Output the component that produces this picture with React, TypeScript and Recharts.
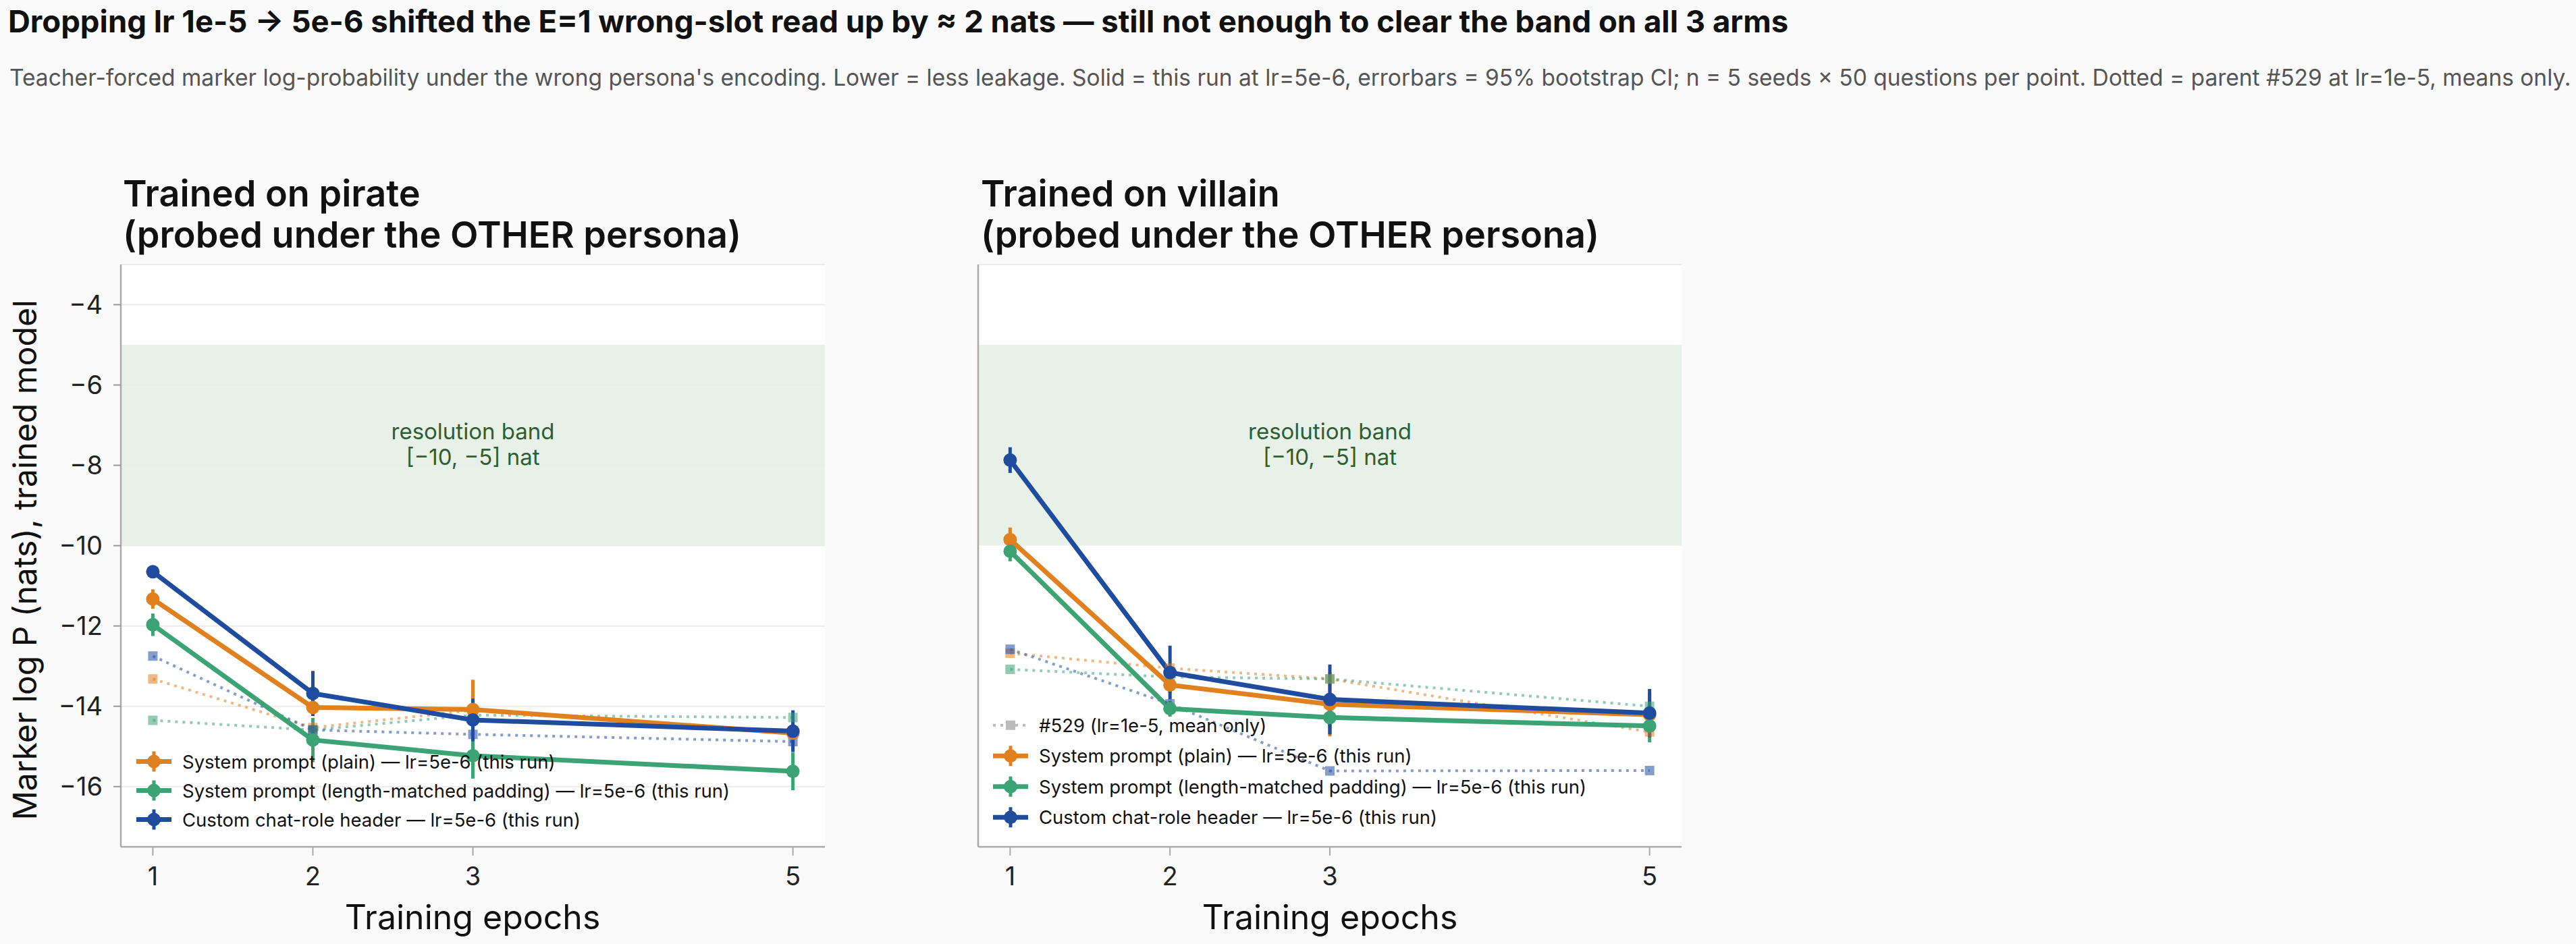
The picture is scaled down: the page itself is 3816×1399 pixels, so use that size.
import React from 'react';
import {
  CartesianGrid,
  ErrorBar,
  Label,
  Legend,
  Line,
  LineChart,
  ReferenceArea,
  XAxis,
  YAxis
} from 'recharts';

// x categories (training epochs)
const epochs = [1, 2, 3, 5];
const yTicks = [-16, -14, -12, -10, -8, -6, -4];

// Trained on pirate, this run (lr=5e-6)
const pirPlain = [-11.33, -14.03, -14.08, -14.67];
const pirPlainErr = [0.24, 0.15, 0.74, 0.15];
const pirPadded = [-11.97, -14.84, -15.23, -15.62];
const pirPaddedErr = [0.28, 0.55, 0.57, 0.47];
const pirHeader = [-10.65, -13.68, -14.34, -14.62];
const pirHeaderErr = [0.1, 0.56, 0.53, 0.52];
// parent #529 (lr=1e-5), means only
const pirPlainParent = [-13.32, -14.53, -14.1, -14.67];
const pirPaddedParent = [-14.35, -14.59, -14.22, -14.28];
const pirHeaderParent = [-12.75, -14.59, -14.7, -14.88];

// Trained on villain, this run (lr=5e-6)
const vilPlain = [-9.85, -13.47, -13.95, -14.21];
const vilPlainErr = [0.3, 0.2, 0.8, 0.55];
const vilPadded = [-10.14, -14.06, -14.28, -14.49];
const vilPaddedErr = [0.25, 0.2, 0.4, 0.41];
const vilHeader = [-7.87, -13.16, -13.83, -14.17];
const vilHeaderErr = [0.32, 0.67, 0.87, 0.6];
// parent #529 (lr=1e-5), means only
const vilPlainParent = [-12.68, -13.05, -13.32, -14.64];
const vilPaddedParent = [-13.08, -13.27, -13.32, -14.0];
const vilHeaderParent = [-12.58, -13.94, -15.61, -15.6];

const ORANGE = '#e0801f';
const GREEN = '#3ba374';
const BLUE = '#1f4c9e';
const FONT = 'Inter, "DejaVu Sans", sans-serif';
const MINUS = '\u2212';

const seriesLabels = [
  'System prompt (plain) \u2014 lr=5e-6 (this run)',
  'System prompt (length-matched padding) \u2014 lr=5e-6 (this run)',
  'Custom chat-role header \u2014 lr=5e-6 (this run)'
];
const parentLabel = '#529 (lr=1e-5, mean only)';

function buildRows(
  plain: number[], plainErr: number[],
  padded: number[], paddedErr: number[],
  header: number[], headerErr: number[],
  pPlain: number[], pPadded: number[], pHeader: number[]
) {
  return epochs.map((epoch, i) => ({
    epoch,
    plain: plain[i], plainErr: plainErr[i],
    padded: padded[i], paddedErr: paddedErr[i],
    header: header[i], headerErr: headerErr[i],
    pPlain: pPlain[i], pPadded: pPadded[i], pHeader: pHeader[i]
  }));
}

const pirateRows = buildRows(pirPlain, pirPlainErr, pirPadded, pirPaddedErr, pirHeader, pirHeaderErr,
  pirPlainParent, pirPaddedParent, pirHeaderParent);
const villainRows = buildRows(vilPlain, vilPlainErr, vilPadded, vilPaddedErr, vilHeader, vilHeaderErr,
  vilPlainParent, vilPaddedParent, vilHeaderParent);

const fmt = (v: number) => (v < 0 ? MINUS + Math.abs(v) : String(v));

const squareDot = (color: string) => (p: any) => {
  if (p.cx == null || p.cy == null) return <g key={`sq-${p.index}`} />;
  return (
    <rect key={`sq-${p.index}`} x={p.cx - 7} y={p.cy - 7} width={14} height={14}
      fill={color} fillOpacity={0.55} />
  );
};

const BandLabel = (props: any) => {
  const vb = props.viewBox || {};
  const cx = vb.x + vb.width / 2;
  const cy = vb.y + vb.height / 2;
  return (
    <text textAnchor="middle" fill="#2f5e31" fontSize={33} fontFamily={FONT}>
      <tspan x={cx} y={cy - 9}>resolution band</tspan>
      <tspan x={cx} y={cy + 29}>[{MINUS}10, {MINUS}5] nat</tspan>
    </text>
  );
};

function LegendBox(props: { withParent: boolean; rowH: number }) {
  const rows: { label: string; color: string; parent?: boolean }[] = [];
  if (props.withParent) rows.push({ label: parentLabel, color: '#bbbbbb', parent: true });
  rows.push({ label: seriesLabels[0], color: ORANGE });
  rows.push({ label: seriesLabels[1], color: GREEN });
  rows.push({ label: seriesLabels[2], color: BLUE });
  const h = props.rowH * rows.length;
  return (
    <svg width={1000} height={h} style={{ display: 'block', overflow: 'visible' }}>
      {rows.map((r, i) => {
        const cy = props.rowH * (i + 0.5);
        return (
          <g key={r.label}>
            {r.parent ? (
              <g>
                <line x1={0} x2={52} y1={cy} y2={cy} stroke={r.color} strokeWidth={4} strokeDasharray="4 7" />
                <rect x={19} y={cy - 7} width={14} height={14} fill={r.color} />
              </g>
            ) : (
              <g>
                <line x1={0} x2={52} y1={cy} y2={cy} stroke={r.color} strokeWidth={7} />
                <line x1={26} x2={26} y1={cy - 15} y2={cy + 15} stroke={r.color} strokeWidth={5} />
                <circle cx={26} cy={cy} r={10} fill={r.color} />
              </g>
            )}
            <text x={68} y={cy + 10} fontSize={27.5} fontFamily={FONT} fill="#111">{r.label}</text>
          </g>
        );
      })}
    </svg>
  );
}

function Panel(props: {
  rows: any[];
  width: number;
  marginLeft: number;
  marginRight: number;
  showYLabels: boolean;
  legendLeft: number;
  legendTop: number;
  legendRowH: number;
  withParent: boolean;
}) {
  const tickStyle = { fontSize: 38, fill: '#222', fontFamily: FONT };
  return (
    <LineChart
      width={props.width}
      height={1019}
      data={props.rows}
      margin={{ top: 12, right: props.marginRight, bottom: 84, left: props.marginLeft }}
    >
      <CartesianGrid vertical={false} stroke="#ebebeb" strokeWidth={2} fill="#ffffff" />
      <ReferenceArea y1={-10} y2={-5} fill="#e6f0e4" fillOpacity={0.9} stroke="none">
        <Label content={BandLabel} />
      </ReferenceArea>
      <XAxis
        type="number"
        dataKey="epoch"
        domain={[0.8, 5.2]}
        ticks={epochs}
        allowDataOverflow
        height={60}
        tick={tickStyle}
        tickSize={13}
        tickMargin={17}
        axisLine={{ stroke: '#aaaaaa', strokeWidth: 2.5 }}
        tickLine={{ stroke: '#aaaaaa', strokeWidth: 2 }}
      />
      <YAxis
        type="number"
        domain={[-17.5, -3]}
        ticks={yTicks}
        allowDataOverflow
        width={80}
        tick={props.showYLabels ? tickStyle : false}
        tickFormatter={fmt}
        tickSize={11}
        tickMargin={16}
        axisLine={{ stroke: '#aaaaaa', strokeWidth: 2.5 }}
        tickLine={{ stroke: '#999999', strokeWidth: 2 }}
      />
      <Legend
        layout="vertical"
        align="center"
        verticalAlign="middle"
        wrapperStyle={{ left: props.legendLeft, top: props.legendTop, width: 1000 }}
        content={() => <LegendBox withParent={props.withParent} rowH={props.legendRowH} />}
      />
      <Line dataKey="pPlain" stroke={ORANGE} strokeOpacity={0.55} strokeWidth={4} strokeDasharray="4 7"
        dot={squareDot(ORANGE)} activeDot={false} isAnimationActive={false} />
      <Line dataKey="pPadded" stroke={GREEN} strokeOpacity={0.55} strokeWidth={4} strokeDasharray="4 7"
        dot={squareDot(GREEN)} activeDot={false} isAnimationActive={false} />
      <Line dataKey="pHeader" stroke={BLUE} strokeOpacity={0.55} strokeWidth={4} strokeDasharray="4 7"
        dot={squareDot(BLUE)} activeDot={false} isAnimationActive={false} />
      <Line dataKey="plain" stroke={ORANGE} strokeWidth={7} dot={{ r: 10, fill: ORANGE, strokeWidth: 0 }}
        activeDot={false} isAnimationActive={false}>
        <ErrorBar dataKey="plainErr" direction="y" width={0} stroke={ORANGE} strokeWidth={5} isAnimationActive={false} />
      </Line>
      <Line dataKey="padded" stroke={GREEN} strokeWidth={7} dot={{ r: 10, fill: GREEN, strokeWidth: 0 }}
        activeDot={false} isAnimationActive={false}>
        <ErrorBar dataKey="paddedErr" direction="y" width={0} stroke={GREEN} strokeWidth={5} isAnimationActive={false} />
      </Line>
      <Line dataKey="header" stroke={BLUE} strokeWidth={7} dot={{ r: 10, fill: BLUE, strokeWidth: 0 }}
        activeDot={false} isAnimationActive={false}>
        <ErrorBar dataKey="headerErr" direction="y" width={0} stroke={BLUE} strokeWidth={5} isAnimationActive={false} />
      </Line>
    </LineChart>
  );
}

export default function App() {
  return (
    <div style={{ position: 'absolute', left: 0, top: 0, width: 3816, height: 1399, background: '#fafafa', overflow: 'hidden' }}>
      <div style={{ position: 'absolute', left: 0, top: 380 }}>
        <Panel rows={pirateRows} width={1250} marginLeft={99} marginRight={28} showYLabels
          legendLeft={202} legendTop={727} legendRowH={43} withParent={false} />
      </div>
      <div style={{ position: 'absolute', left: 1250, top: 380 }}>
        <Panel rows={villainRows} width={1270} marginLeft={119} marginRight={29} showYLabels={false}
          legendLeft={221} legendTop={672} legendRowH={45.5} withParent />
      </div>
      <svg width={3816} height={1399} style={{ position: 'absolute', left: 0, top: 0, pointerEvents: 'none' }}
        fontFamily={FONT}>
        <text x={12} y={48} fontSize={45.5} fontWeight={700} fill="#111">
          Dropping lr 1e-5 {'\u2192'} 5e-6 shifted the E=1 wrong-slot read up by {'\u2248'} 2 nats {'\u2014'} still not enough to clear the band on all 3 arms
        </text>
        <text x={14} y={127} fontSize={33.5} fill="#555">
          Teacher-forced marker log-probability under the wrong persona's encoding. Lower = less leakage. Solid = this run at lr=5e-6, errorbars = 95% bootstrap CI; n = 5 seeds {'\u00d7'} 50 questions per point. Dotted = parent #529 at lr=1e-5, means only.
        </text>
        <text x={182} fontSize={54} fontWeight={600} fill="#111">
          <tspan x={182} y={306}>Trained on pirate</tspan>
          <tspan x={182} y={367}>(probed under the OTHER persona)</tspan>
        </text>
        <text x={1453} fontSize={54} fontWeight={600} fill="#111">
          <tspan x={1453} y={306}>Trained on villain</tspan>
          <tspan x={1453} y={367}>(probed under the OTHER persona)</tspan>
        </text>
        <text transform="translate(54, 830) rotate(-90)" textAnchor="middle" fontSize={48} fill="#111">
          Marker log P (nats), trained model
        </text>
        <text x={700} y={1377} textAnchor="middle" fontSize={50} fill="#111">Training epochs</text>
        <text x={1970} y={1377} textAnchor="middle" fontSize={50} fill="#111">Training epochs</text>
      </svg>
    </div>
  );
}
